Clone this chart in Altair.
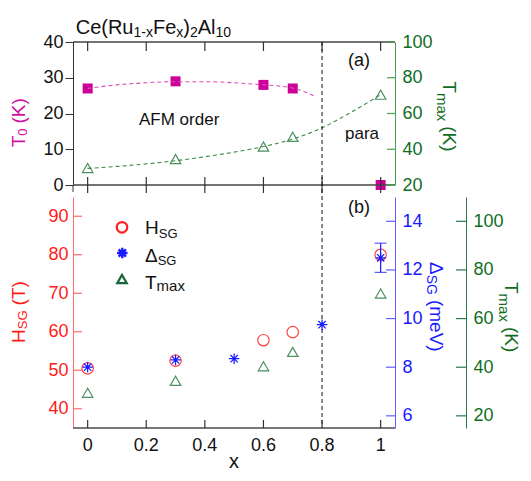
import altair as alt
import pandas as pd

# ---------------- data ----------------
x_ticks = [0, 0.2, 0.4, 0.6, 0.8, 1.0]
x_tick_labels = ["0", "0.2", "0.4", "0.6", "0.8", "1"]
T0_ticks = [0, 10, 20, 30, 40]
Tmax_ticks = [20, 40, 60, 80, 100]
H_ticks = [40, 50, 60, 70, 80, 90]
D_ticks = [6, 8, 10, 12, 14]

# panel (a)
x_T0 = [0.0, 0.3, 0.6, 0.7, 1.0]
T0 = [27.0, 29.0, 28.0, 27.0, 0.0]
x_Tmax_a = [0.0, 0.3, 0.6, 0.7, 1.0]
Tmax_a = [29.5, 34.5, 41.5, 47.0, 70.5]
x_fit_T0 = [0.0, 0.1, 0.2, 0.3, 0.4, 0.5, 0.6, 0.65, 0.7, 0.74, 0.78]
fit_T0 = [27.0, 28.0, 28.6, 28.9, 28.9, 28.6, 28.0, 27.7, 27.1, 26.1, 24.6]
x_fit_Tmax = [0.0, 0.1, 0.2, 0.3, 0.4, 0.5, 0.6, 0.7, 0.8, 0.9, 1.0]
fit_Tmax = [29.3, 30.4, 31.8, 33.6, 35.8, 38.4, 41.5, 45.7, 52.0, 60.8, 70.5]
x_boundary = [0.8]

# panel (b)
x_H = [0.0, 0.3, 0.6, 0.7, 1.0]
H_SG = [50.5, 52.5, 57.8, 59.9, 80.0]
x_D = [0.0, 0.3, 0.5, 0.8, 1.0]
D_SG = [8.0, 8.3, 8.35, 9.75, 12.5]
x_Derr = [1.0]
D_err_lo = [11.9]
D_err_hi = [13.1]
x_Tmax_b = [0.0, 0.3, 0.6, 0.7, 1.0]
Tmax_b = [29.5, 34.4, 40.4, 46.3, 70.3]

# ---------------- styling / layout ----------------
FONT = "Liberation Sans"
W, H1, H2 = 322, 143, 231
GAP = 12
Y0 = H1 + GAP          # top of panel (b)
HT = Y0 + H2           # total plot height
PL, PT = 65, 34        # plot origin inside the svg
SVG_W, SVG_H = 515, 464
MAG = "#cc0099"
MAG_LINE = "#e04cbc"
MAG_TXT = "#d4109f"
G_MARK = "#4a9060"
G_LINE = "#3a8a45"
G_TXT = "#0f6e1e"
G_AX = "#4aa04a"
G_AX2 = "#2a7a4a"
RED_M = "#ff4444"
RED_TXT = "#ff1a1a"
RED_AX = "#ff6a6a"
BLUE = "#1a1aff"
BLUE_AX = "#6060ff"
GRAY = "#444444"
ASTER = "M0,-1L0,1M-1,0L1,0M-0.7,-0.7L0.7,0.7M-0.7,0.7L0.7,-0.7"

xs = alt.Scale(domain=[-0.05, 1.049], nice=False, zero=False)


def ys(dom, top_panel):
    rng = [H1, 0] if top_panel else [HT, Y0]
    return alt.Scale(domain=dom, range=rng, nice=False, zero=False)


D_T0, D_Ta, D_H, D_D, D_Tb = [0, 40], [20, 100], [35, 95], [5.5, 15], [15, 110]

CW = {'C': .722, 'e': .556, '(': .333, 'R': .722, 'u': .556, '1': .556, '-': .333,
      'x': .5, 'F': .611, ')': .333, '2': .556, 'A': .667, 'l': .222, '0': .556,
      'H': .722, 'S': .667, 'G': .778, 'Δ': .668, 'T': .611, 'm': .833, 'a': .556,
      ' ': .278, 'K': .667, 'V': .667, 'v': .5, 'o': .556}

one = pd.DataFrame({"k": [0]})


def tw(s, fs):
    return sum(CW.get(c, .556) for c in s) * fs


def rich(x0, y0, parts, ang, color):
    """Compose a label of several text runs (for subscripts)."""
    charts, adv = [], 0.0
    for text, fs, shift, gap in parts:
        adv += gap
        if ang == 0:
            px, py = x0 + adv, y0 + shift
        elif ang == 90:
            px, py = x0 - shift, y0 + adv
        else:
            px, py = x0 + shift, y0 - adv
        mk = dict(align="left", baseline="alphabetic", font=FONT, fontSize=fs, color=color)
        if ang:
            mk["angle"] = ang
        charts.append(alt.Chart(one).mark_text(**mk).encode(
            x=alt.value(px), y=alt.value(py), text=alt.value(text)))
        adv += tw(text, fs)
    return charts


def xq(field):
    return alt.X(f"{field}:Q", scale=xs, axis=None)


def yq(field, dom, top_panel, axis=None):
    return alt.Y(f"{field}:Q", scale=ys(dom, top_panel), axis=axis)


df_xt = pd.DataFrame({"x": x_ticks, "lab": x_tick_labels})

# ---------------- y axes ----------------
ax_T0 = alt.Axis(orient="left", values=T0_ticks, tickSize=8, tickColor="#333",
                 domainColor="#333", labelColor="#111", labelPadding=2, title=None, grid=False)
ax_Ta = alt.Axis(orient="right", values=Tmax_ticks, ticks=False, domainColor=G_AX,
                 labelColor=G_TXT, labelPadding=7, title=None, grid=False)
ax_H = alt.Axis(orient="left", values=H_ticks, ticks=False, domainColor=RED_AX, labelColor=RED_TXT,
                labelPadding=5, title=None, grid=False)
ax_D = alt.Axis(orient="right", values=D_ticks, ticks=False, domainColor=BLUE_AX, labelColor=BLUE,
                labelPadding=7, title=None, grid=False)
ax_Tb = alt.Axis(orient="right", offset=71, values=Tmax_ticks, ticks=False, domainColor=G_AX2,
                 labelColor=G_TXT, labelPadding=7, title=None, grid=False)

layers = []

# ================= panel (a) =================
layers.append(alt.Chart(pd.DataFrame({"x": x_T0, "v": T0})).mark_point(
    shape="square", filled=True, size=100, color=MAG, opacity=1).encode(
    x=xq("x"), y=yq("v", D_T0, True, ax_T0)))
layers.append(alt.Chart(pd.DataFrame({"x": x_Tmax_a, "v": Tmax_a})).mark_point(
    shape="triangle-up", filled=False, size=110, color=G_MARK, strokeWidth=1.2, opacity=1).encode(
    x=xq("x"), y=yq("v", D_Ta, True, ax_Ta)))
layers.append(alt.Chart(pd.DataFrame({"x": x_fit_T0, "v": fit_T0})).mark_line(
    color=MAG_LINE, strokeDash=[4, 3], strokeWidth=1.1, interpolate="monotone").encode(
    x=xq("x"), y=yq("v", D_T0, True)))
layers.append(alt.Chart(pd.DataFrame({"x": x_fit_Tmax, "v": fit_Tmax})).mark_line(
    color=G_LINE, strokeDash=[4, 3], strokeWidth=1.1, interpolate="monotone").encode(
    x=xq("x"), y=yq("v", D_Ta, True)))
# frame lines and inward ticks of panel (a)
layers.append(alt.Chart(one).mark_rule(color=GRAY, strokeWidth=1.5).encode(
    x=alt.value(0), x2=alt.value(W), y=alt.value(0)))
layers.append(alt.Chart(one).mark_rule(color=GRAY, strokeWidth=1.5).encode(
    x=alt.value(0), x2=alt.value(W), y=alt.value(H1)))
layers.append(alt.Chart(one).mark_rule(color="#333", strokeWidth=1).encode(
    x=alt.value(0), y=alt.value(H1), y2=alt.value(H1 + 7)))
layers.append(alt.Chart(df_xt).mark_rule(color="#333", strokeWidth=1.2).encode(
    x=xq("x"), y=alt.value(0), y2=alt.value(9)))
layers.append(alt.Chart(df_xt).mark_rule(color="#333", strokeWidth=1.2).encode(
    x=xq("x"), y=alt.value(H1 - 8), y2=alt.value(H1 + 8)))
layers.append(alt.Chart(pd.DataFrame({"v": Tmax_ticks})).mark_rule(color=G_AX, strokeWidth=1.2).encode(
    y=yq("v", D_Ta, True), x=alt.value(W - 8), x2=alt.value(W)))
# phase boundary
layers.append(alt.Chart(pd.DataFrame({"x": x_boundary})).mark_rule(
    color="#111", strokeDash=[4, 3], strokeWidth=1).encode(
    x=xq("x"), y=alt.value(0), y2=alt.value(HT)))

# ================= panel (b) =================
layers.append(alt.Chart(pd.DataFrame({"x": x_H, "v": H_SG})).mark_point(
    shape="circle", filled=False, size=130, color=RED_M, strokeWidth=1.2, opacity=1).encode(
    x=xq("x"), y=yq("v", D_H, False, ax_H)))
layers.append(alt.Chart(pd.DataFrame({"x": x_D, "v": D_SG})).mark_point(
    shape=ASTER, filled=False, size=110, color=BLUE, strokeWidth=1.2, opacity=1).encode(
    x=xq("x"), y=yq("v", D_D, False, ax_D)))
layers.append(alt.Chart(pd.DataFrame({"x": x_Tmax_b, "v": Tmax_b})).mark_point(
    shape="triangle-up", filled=False, size=110, color=G_MARK, strokeWidth=1.2, opacity=1).encode(
    x=xq("x"), y=yq("v", D_Tb, False, ax_Tb)))
df_err = pd.DataFrame({"x": x_Derr, "lo": D_err_lo, "hi": D_err_hi})
layers.append(alt.Chart(df_err).mark_rule(color=BLUE, strokeWidth=1.2).encode(
    x=xq("x"), y=yq("lo", D_D, False), y2="hi:Q"))
layers.append(alt.Chart(df_err).mark_tick(color=BLUE, orient="horizontal", size=12, thickness=1.2).encode(
    x=xq("x"), y=yq("lo", D_D, False)))
layers.append(alt.Chart(df_err).mark_tick(color=BLUE, orient="horizontal", size=12, thickness=1.2).encode(
    x=xq("x"), y=yq("hi", D_D, False)))
# bottom x axis (drawn by hand: inward ticks)
layers.append(alt.Chart(one).mark_rule(color="#777", strokeWidth=2).encode(
    x=alt.value(0), x2=alt.value(W), y=alt.value(HT)))
layers.append(alt.Chart(df_xt).mark_rule(color="#333", strokeWidth=1.2).encode(
    x=xq("x"), y=alt.value(HT - 8), y2=alt.value(HT)))
layers.append(alt.Chart(df_xt).mark_text(align="center", baseline="top", font=FONT, fontSize=18,
                                         color="#111").encode(
    x=xq("x"), y=alt.value(HT + 9), text="lab:N"))
layers.append(alt.Chart(one).mark_text(align="center", baseline="alphabetic", font=FONT, fontSize=20,
                                       color="#111").encode(
    x=alt.value(W / 2), y=alt.value(HT + 40), text=alt.value("x")))
# inward y ticks of panel (b)
layers.append(alt.Chart(pd.DataFrame({"v": H_ticks})).mark_rule(color=RED_AX, strokeWidth=1.2).encode(
    y=yq("v", D_H, False), x=alt.value(0), x2=alt.value(9)))
layers.append(alt.Chart(pd.DataFrame({"v": D_ticks})).mark_rule(color=BLUE_AX, strokeWidth=1.2).encode(
    y=yq("v", D_D, False), x=alt.value(W - 9), x2=alt.value(W)))
layers.append(alt.Chart(pd.DataFrame({"v": Tmax_ticks})).mark_rule(color=G_AX2, strokeWidth=1.2).encode(
    y=yq("v", D_Tb, False), x=alt.value(W + 61), x2=alt.value(W + 71)))

# legend (manual, for subscripted labels)
layers.append(alt.Chart(one).mark_point(shape="circle", filled=False, size=110, color="#ff2020",
                                        strokeWidth=2.2, opacity=1).encode(
    x=alt.value(49), y=alt.value(Y0 + 30.3)))
layers.append(alt.Chart(one).mark_point(shape=ASTER, filled=False, size=110, color=BLUE,
                                        strokeWidth=2.4, opacity=1).encode(
    x=alt.value(49.3), y=alt.value(Y0 + 56)))
layers.append(alt.Chart(one).mark_point(shape="triangle-up", filled=False, size=90, color="#17663a",
                                        strokeWidth=2.2, opacity=1).encode(
    x=alt.value(49), y=alt.value(Y0 + 82)))

# ---------------- texts ----------------
txt = []
txt += rich(2.7, -8.5, [("Ce(Ru", 20, 0, 0), ("1-x", 14, 3, 0), ("Fe", 20, 0, 0), ("x", 14, 3, 0),
                        (")", 20, 0, 0), ("2", 14, 3, 0), ("Al", 20, 0, 0), ("10", 14, 3, 0)], 0, "#111")
txt += rich(275, 24.3, [("(a)", 18, 0, 0)], 0, "#111")
txt += rich(66, 83.3, [("AFM order", 17, 0, 0)], 0, "#111")
txt += rich(272, 97.3, [("para", 17, 0, 0)], 0, "#111")
txt += rich(-48, 105.3, [("T", 19, 0, 0), ("0", 13, 1.5, 0), ("(K)", 19, 0, 5)], 270, MAG_TXT)
txt += rich(370, 39.3, [("T", 19, 0, 0), ("max", 15, 6, 0), ("(K)", 19, 0, 5)], 90, G_TXT)
txt += rich(275, Y0 + 16, [("(b)", 18, 0, 0)], 0, "#111")
txt += rich(72, Y0 + 37, [("H", 19, 0, 0), ("SG", 13, 4, 0)], 0, "#111")
txt += rich(72, Y0 + 65, [("Δ", 19, 0, 0), ("SG", 13, 3, 0)], 0, "#111")
txt += rich(72, Y0 + 92, [("T", 19, 0, 0), ("max", 15, 2, 0)], 0, "#111")
txt += rich(-48, Y0 + 146, [("H", 19, 0, 0), ("SG", 13, 1.5, 0), ("(T)", 19, 0, 5)], 270, RED_TXT)
txt += rich(357, Y0 + 65, [("Δ", 19, 0, 0), ("SG", 14, 3, 0), ("(meV)", 19, 0, 5)], 90, BLUE)
txt += rich(432, Y0 + 85, [("T", 19, 0, 0), ("max", 15, 6, 0), ("(K)", 19, 0, 5)], 90, G_TXT)

chart = alt.layer(*layers, *txt).resolve_scale(y="independent").properties(
    width=W, height=HT,
    autosize=alt.AutoSizeParams(type="none"),
    padding={"left": PL, "top": PT, "right": SVG_W - PL - W, "bottom": SVG_H - PT - HT},
    background="white"
).configure_view(stroke=None).configure_axis(
    labelFont=FONT, titleFont=FONT, labelFontSize=18, grid=False
)

chart.save("out.html", embed_options={"renderer": "svg", "actions": False})
